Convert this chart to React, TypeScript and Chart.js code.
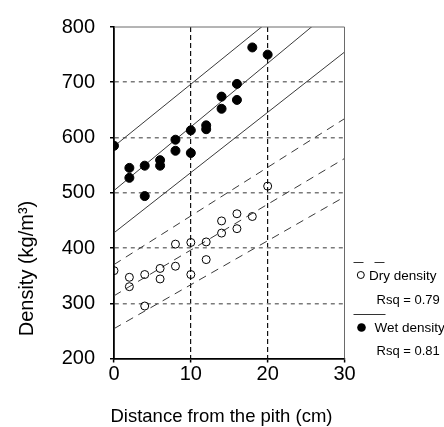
import React, { useEffect, useRef } from "react";
import { Chart, registerables } from "chart.js";

Chart.register(...registerables);

// ---- data ----
const xMin = 0;
const xMax = 30;
const xStep = 10;
const yMin = 200;
const yMax = 800;
const yStep = 100;

const wetX = [0, 2, 2, 4, 4, 6, 6, 8, 8, 10, 10, 12, 12, 14, 14, 16, 16, 18, 20];
const wetY = [585, 545, 527, 549, 494, 559, 549, 596, 576, 613, 572, 622, 615, 674, 652, 697, 668, 763, 750];

const dryX = [0, 2, 2, 4, 4, 6, 6, 8, 8, 10, 10, 12, 12, 14, 14, 16, 16, 18, 20];
const dryY = [359, 347, 330, 352, 295, 363, 344, 407, 367, 410, 352, 411, 379, 449, 427, 462, 435, 457, 512];

const fitX = [0, 30];
const wetUpper = [584, 921.5];
const wetFit = [504, 849.6];
const wetLower = [427.5, 754.6];
const dryUpper = [370, 634];
const dryFit = [313.5, 562];
const dryLower = [254, 492.6];

const dryLabel = "Dry density";
const dryRsq = "Rsq = 0.79";
const wetLabel = "Wet density";
const wetRsq = "Rsq = 0.81";
const xTitle = "Distance from the pith (cm)";
const yTitle = "Density (kg/m\u00b3)";

const FONT = "'Liberation Sans', Arial, Helvetica, sans-serif";

const pts = (xs: number[], ys: number[]) => xs.map((x, i) => ({ x, y: ys[i] }));

const decorPlugin = {
  id: "decor",
  afterDatasetsDraw(chart: any) {
    const { ctx, chartArea: a } = chart;
    ctx.save();
    ctx.strokeStyle = "#6a6a6a";
    ctx.lineWidth = 1;
    ctx.beginPath();
    ctx.moveTo(a.left, a.top);
    ctx.lineTo(a.right, a.top);
    ctx.lineTo(a.right, a.bottom);
    ctx.stroke();
    ctx.restore();
  },
  afterDraw(chart: any) {
    const { ctx, chartArea: a } = chart;
    ctx.save();
    ctx.fillStyle = "#000";
    ctx.font = `18.5px ${FONT}`;
    ctx.textAlign = "center";
    ctx.textBaseline = "alphabetic";
    ctx.fillText(xTitle, 221.5, 421.5);
    ctx.save();
    ctx.translate(33, 268.5);
    ctx.rotate(-Math.PI / 2);
    ctx.font = `20px ${FONT}`;
    ctx.textAlign = "center";
    ctx.fillText(yTitle, 0, 0);
    ctx.restore();

    const lx = a.right + 9;
    ctx.strokeStyle = "#333";
    ctx.lineWidth = 1;
    ctx.setLineDash([10, 11]);
    ctx.beginPath();
    ctx.moveTo(lx, 262.5);
    ctx.lineTo(lx + 32, 262.5);
    ctx.stroke();
    ctx.setLineDash([]);
    ctx.beginPath();
    ctx.moveTo(lx, 314.5);
    ctx.lineTo(lx + 32, 314.5);
    ctx.stroke();

    ctx.strokeStyle = "#000";
    ctx.beginPath();
    ctx.arc(360.8, 275, 3.5, 0, Math.PI * 2);
    ctx.stroke();
    ctx.beginPath();
    ctx.arc(361.5, 327.5, 4.3, 0, Math.PI * 2);
    ctx.fill();

    ctx.textAlign = "left";
    ctx.textBaseline = "middle";
    ctx.font = `13.5px ${FONT}`;
    ctx.fillText(dryLabel, 369, 276);
    ctx.fillText(wetLabel, 374.5, 328.5);
    ctx.font = `13px ${FONT}`;
    ctx.fillText(dryRsq, 376.5, 300);
    ctx.fillText(wetRsq, 376.5, 351);
    ctx.restore();
  },
};

export default function App() {
  const ref = useRef<HTMLCanvasElement | null>(null);

  useEffect(() => {
    if (!ref.current) return;
    const lineDs = (ys: number[], dashed: boolean) => ({
      type: "line" as const,
      data: pts(fitX, ys),
      borderColor: "#3a3a3a",
      borderWidth: 1,
      borderDash: dashed ? [8, 6] : [],
      pointRadius: 0,
      tension: 0,
      fill: false,
    });
    const chart = new Chart(ref.current, {
      type: "scatter",
      data: {
        datasets: [
          {
            type: "scatter",
            label: wetLabel,
            data: pts(wetX, wetY),
            showLine: false,
            pointRadius: 4.5,
            backgroundColor: "#000",
            borderColor: "#000",
            borderWidth: 1,
          },
          {
            type: "scatter",
            label: dryLabel,
            data: pts(dryX, dryY),
            showLine: false,
            pointRadius: 4,
            backgroundColor: "rgba(0,0,0,0)",
            borderColor: "#000",
            borderWidth: 1,
          },
          lineDs(wetUpper, false),
          lineDs(wetFit, false),
          lineDs(wetLower, false),
          lineDs(dryUpper, true),
          lineDs(dryFit, true),
          lineDs(dryLower, true),
        ] as any,
      },
      options: {
        animation: false,
        responsive: false,
        maintainAspectRatio: false,
        devicePixelRatio: 1,
        layout: { padding: { left: 0, top: 19.3, right: 99.5, bottom: 0 } },
        plugins: { legend: { display: false }, tooltip: { enabled: false } },
        scales: {
          x: {
            type: "linear",
            min: xMin,
            max: xMax,
            afterFit: (s: any) => {
              s.height = 68.5;
            },
            ticks: {
              stepSize: xStep,
              color: "#000",
              padding: 0,
              font: { family: FONT, size: 20 },
            },
            grid: {
              color: (c: any) =>
                c.tick && c.tick.value > xMin && c.tick.value < xMax ? "#111" : "rgba(0,0,0,0)",
              lineWidth: 1.2,
              tickColor: "#000",
              tickLength: 4,
              tickWidth: 1.5,
            },
            border: { display: true, color: "#000", width: 1.8, dash: [5, 3] },
          },
          y: {
            type: "linear",
            min: yMin,
            max: yMax,
            afterFit: (s: any) => {
              s.width = 114;
            },
            ticks: {
              stepSize: yStep,
              color: "#000",
              padding: 15,
              font: { family: FONT, size: 20 },
            },
            grid: {
              color: (c: any) =>
                c.tick && c.tick.value > yMin && c.tick.value < yMax ? "#7a7a7a" : "rgba(0,0,0,0)",
              lineWidth: 1.5,
              tickColor: "#000",
              tickLength: 4,
              tickWidth: 1.5,
            },
            border: { display: true, color: "#000", width: 1.8, dash: [4, 4] },
          },
        },
      } as any,
      plugins: [decorPlugin],
    });
    return () => chart.destroy();
  }, []);

  return (
    <div style={{ position: "absolute", left: 0, top: 0, width: 444, height: 427, background: "#fff" }}>
      <canvas ref={ref} width={444} height={427} style={{ display: "block", width: 444, height: 427 }} />
    </div>
  );
}
